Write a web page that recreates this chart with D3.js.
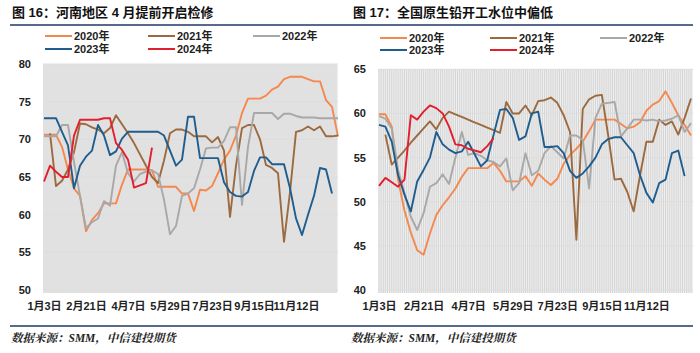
<!DOCTYPE html>
<html><head><meta charset="utf-8">
<script src="https://cdn.jsdelivr.net/npm/d3@7"></script>
<style>
body{margin:0;background:#fff}
svg{display:block}
text{font-family:"Liberation Sans","Noto Sans CJK SC",sans-serif;}
</style>
</head><body>
<svg id="c" width="700" height="353"></svg>
<script>
// ---------- data ----------
const years = ["2020年","2021年","2022年","2023年","2024年"];
const colors = ["#F4884E","#9C6A3F","#A8A8A8","#1F5D8E","#E11F2D"];
const xTickLabels = ["1月3日","2月21日","4月7日","5月29日","7月23日","9月15日","11月12日"];
const tickEvery = 7;
const nWeeks = 50;

const titleLeft = "图 16：河南地区 4 月提前开启检修";
const titleRight = "图 17：全国原生铅开工水位中偏低";
const source = "数据来源：SMM，中信建投期货";

const yTicksLeft = [50,55,60,65,70,75,80];
const yTicksRight = [40,45,50,55,60,65];

// 河南地区
const henan2020 = [70.6,70.6,70.6,69.0,66.0,63.5,62.5,57.8,59.3,60.2,61.5,61.5,61.5,64.0,66.0,66.0,66.0,66.0,65.9,63.7,63.7,63.7,63.7,62.8,62.8,60.5,63.3,63.2,63.8,65.5,67.3,68.5,70.5,73.5,75.4,75.4,75.4,75.8,76.6,77.0,78.0,78.3,78.3,78.3,78.0,77.7,77.7,75.2,74.3,70.4];
const henan2021 = [null,70.8,63.8,64.5,66.0,68.3,72.1,72.0,71.6,71.3,70.8,71.5,73.2,72.0,70.8,69.5,68.0,66.5,65.0,64.2,67.2,70.8,71.3,71.3,71.0,70.4,70.4,70.4,69.6,70.3,68.5,59.7,66.5,71.5,71.9,71.9,70.0,66.6,66.2,65.5,56.4,63.0,71.0,71.2,71.7,71.2,71.7,70.4,70.4,70.5];
const henan2022 = [70.4,70.4,70.4,71.9,71.9,67.0,62.5,58.2,59.0,59.5,61.8,61.2,66.5,68.3,65.5,64.4,65.4,65.7,65.9,65.4,62.0,57.4,58.5,62.5,62.8,63.5,66.0,68.8,68.9,68.9,69.8,71.6,71.6,61.3,69.0,73.5,73.5,73.5,73.5,72.7,73.4,73.4,73.1,72.9,72.9,72.9,72.8,72.8,72.8,72.8];
const henan2023 = [72.8,72.8,72.8,71.0,69.2,63.5,66.5,67.7,68.5,71.9,70.5,67.9,68.4,70.1,71.0,71.0,71.0,71.0,71.0,71.0,70.5,68.5,66.5,67.3,73.0,73.0,67.5,67.5,67.5,67.5,64.3,63.0,62.5,62.4,63.0,65.8,67.6,67.6,66.7,66.7,66.7,63.5,59.5,57.3,60.0,62.5,66.2,66.0,62.8];
const henan2024 = [64.4,66.5,65.7,65.0,65.0,70.5,72.6,72.6,72.6,72.6,72.8,72.8,69.5,68.6,67.3,63.6,63.9,64.2,68.9];

// 全国原生铅
const nation2020 = [59.9,59.9,58.5,52.5,49.0,46.5,44.5,44.0,46.4,48.5,49.6,50.5,51.5,52.8,53.8,53.8,53.8,53.8,54.4,53.5,52.3,52.3,52.3,52.9,51.8,53.2,52.5,51.9,52.6,54.3,55.3,56.0,56.8,58.0,59.3,59.3,59.3,59.3,58.8,58.3,58.5,59.0,60.3,61.0,61.4,62.5,61.2,59.8,58.7,57.5];
const nation2021 = [null,57.6,54.2,55.0,55.8,56.7,57.5,58.3,59.1,58.2,59.5,60.2,59.9,59.6,59.3,59.0,58.7,58.4,58.1,57.8,61.3,60.0,60.0,60.9,59.8,61.4,61.5,61.8,61.2,59.8,57.9,45.7,60.5,61.6,62.0,62.1,57.5,52.5,52.6,51.1,48.9,53.0,56.8,56.8,59.3,58.7,59.1,57.6,59.5,61.7];
const nation2022 = [59.7,59.4,58.3,53.6,51.0,48.3,46.8,48.7,51.7,52.1,53.1,52.0,55.0,57.9,55.3,55.5,55.2,54.7,54.5,54.0,54.9,51.3,52.1,55.5,53.0,53.5,55.5,56.3,55.6,54.9,57.5,57.5,57.0,51.5,59.5,61.1,61.2,61.3,57.4,58.3,59.3,59.3,59.2,59.3,59.1,59.2,59.4,59.8,57.9,58.9];
const nation2023 = [58.7,58.5,56.8,53.0,50.8,48.9,52.3,53.6,55.0,57.9,56.5,55.9,55.5,55.7,56.8,55.4,54.0,54.7,57.6,60.4,60.5,59.5,57.0,57.4,60.0,60.2,56.2,56.2,56.3,55.5,53.5,52.7,53.2,54.0,55.0,56.5,57.1,57.3,57.3,56.4,55.5,53.0,51.0,49.9,52.1,52.5,55.5,55.8,52.9];
const nation2024 = [51.8,52.7,52.2,51.7,52.5,59.8,59.3,60.2,60.9,60.6,60.0,58.5,56.5,56.4,56.0,55.8,55.6,56.3,57.2];

// ---------- drawing ----------
const svg = d3.select("#c");
const FONT_BOLD = 700;

function drawPanel(cfg){
  const g = svg.append("g");
  // title
  g.append("text").attr("x", cfg.titleX).attr("y", 17)
    .attr("font-size", 13).attr("font-weight", FONT_BOLD).attr("fill", "#111")
    .text(cfg.title);
  g.append("line").attr("x1", cfg.sepX0).attr("x2", cfg.sepX1).attr("y1", 25).attr("y2", 25)
    .attr("stroke", "#1F3864").attr("stroke-width", 1.4);
  g.append("line").attr("x1", cfg.sepX0).attr("x2", cfg.sepX1).attr("y1", 326).attr("y2", 326)
    .attr("stroke", "#1F3864").attr("stroke-width", 1.4);
  g.append("text").attr("x", cfg.sepX0 + 1).attr("y", 342)
    .attr("font-size", 11.5).attr("font-weight", FONT_BOLD).attr("font-style", "italic")
    .attr("fill", "#222")
    .style("font-family", '"Liberation Serif","Noto Serif CJK SC","Noto Sans CJK SC",serif')
    .text(source);

  const x = d3.scalePoint().domain(d3.range(nWeeks)).range([cfg.px0, cfg.px1]);
  const y = d3.scaleLinear().domain(cfg.yDomain).range([cfg.py1, cfg.py0]);

  // plot background
  g.append("rect").attr("x", cfg.bx0).attr("y", cfg.py0).attr("width", cfg.bx1 - cfg.bx0)
    .attr("height", cfg.py1 - cfg.py0 + 3).attr("fill", "#EFEFEF");
  // dense vertical grid
  const step = x.step() / 3;
  const vg = d3.range(cfg.bx0 + 1, cfg.bx1, step);
  g.append("g").selectAll("line").data(vg).join("line")
    .attr("x1", d => d).attr("x2", d => d).attr("y1", cfg.py0).attr("y2", cfg.py1 + 3)
    .attr("stroke", "#C9C9C9").attr("stroke-width", 0.7);
  // horizontal grid
  g.append("g").selectAll("line").data(cfg.yTicks).join("line")
    .attr("x1", cfg.bx0).attr("x2", cfg.bx1).attr("y1", d => y(d)).attr("y2", d => y(d))
    .attr("stroke", "#DDDDDD").attr("stroke-width", 1);

  // y axis labels
  const ya = d3.axisLeft(y).tickValues(cfg.yTicks).tickSize(0).tickPadding(0);
  const yg = g.append("g").attr("transform", `translate(${cfg.yLabelX},0)`).call(ya);
  yg.select(".domain").remove();
  yg.selectAll("text").attr("font-size", 11).attr("font-weight", FONT_BOLD).attr("fill", "#222")
    .style("font-family", '"Liberation Sans","Noto Sans CJK SC",sans-serif');

  // x axis labels
  const xa = d3.axisBottom(x).tickValues(d3.range(0, nWeeks, tickEvery).slice(0, xTickLabels.length))
    .tickFormat((d, i) => xTickLabels[i]).tickSize(0).tickPadding(0);
  const xg = g.append("g").attr("transform", `translate(0,${cfg.xLabelY})`).call(xa);
  xg.select(".domain").remove();
  xg.selectAll("text").attr("font-size", 11).attr("font-weight", FONT_BOLD).attr("fill", "#222")
    .style("font-family", '"Liberation Sans","Noto Sans CJK SC",sans-serif');

  // lines
  const line = d3.line().defined(d => d != null).x((d, i) => x(i)).y(d => y(d));
  cfg.series.forEach((s, k) => {
    g.append("path").datum(s).attr("d", line).attr("fill", "none")
      .attr("stroke", colors[k]).attr("stroke-width", 1.9).attr("stroke-linejoin", "round");
  });

  // legend
  const lg = g.append("g");
  years.forEach((yr, k) => {
    const col = k < 3 ? k : k - 3;
    const row = k < 3 ? 0 : 1;
    const lx = cfg.legX[col], ly = cfg.legY[row];
    lg.append("line").attr("x1", lx).attr("x2", lx + 27).attr("y1", ly).attr("y2", ly)
      .attr("stroke", colors[k]).attr("stroke-width", 2);
    lg.append("text").attr("x", lx + 29).attr("y", ly + 4).attr("font-size", 11)
      .attr("font-weight", FONT_BOLD).attr("fill", "#222").text(yr);
  });
}

drawPanel({
  title: titleLeft, titleX: 12, sepX0: 10, sepX1: 350,
  px0: 44, px1: 338, bx0: 43, bx1: 338, py0: 64, py1: 290,
  yDomain: [50, 80], yTicks: yTicksLeft, yLabelX: 31, xLabelY: 302,
  legX: [45, 148, 253], legY: [36, 49],
  series: [henan2020, henan2021, henan2022, henan2023, henan2024]
});
drawPanel({
  title: titleRight, titleX: 353, sepX0: 350, sepX1: 693,
  px0: 379, px1: 691, bx0: 378, bx1: 693, py0: 69.3, py1: 290,
  yDomain: [40, 65], yTicks: yTicksRight, yLabelX: 366, xLabelY: 302,
  legX: [380, 490, 600], legY: [38, 50],
  series: [nation2020, nation2021, nation2022, nation2023, nation2024]
});
</script>
</body></html>
